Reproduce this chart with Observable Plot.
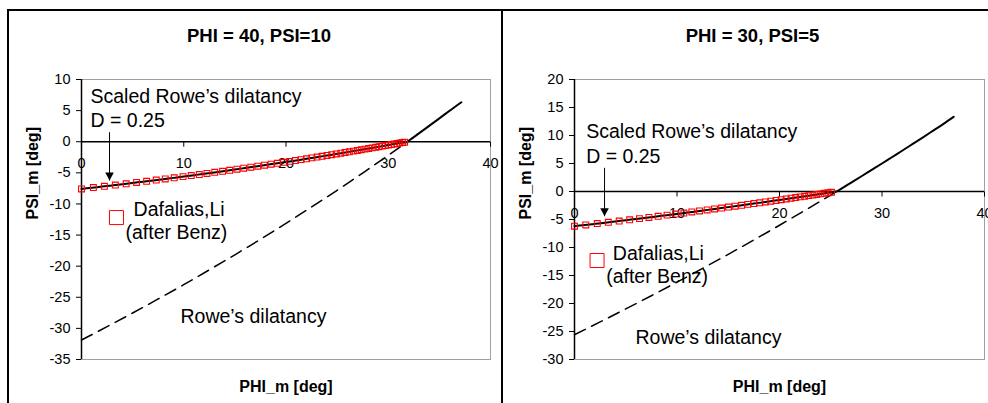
<!DOCTYPE html>
<html><head><meta charset="utf-8">
<script src="https://cdn.jsdelivr.net/npm/d3@7"></script>
<script src="https://cdn.jsdelivr.net/npm/@observablehq/plot@0.6"></script>
<style>
html,body{margin:0;padding:0;background:#fff;}
#wrap{position:relative;width:988px;height:403px;overflow:hidden;font-family:"Liberation Sans",Arial,sans-serif;}
.panel{position:absolute;top:10px;height:393px;}
.line{position:absolute;background:#000;}
</style>
</head><body>
<div id="wrap">
  <div class="panel" id="left" style="left:8px;width:494px"></div>
  <div class="panel" id="right" style="left:502px;width:486px"></div>
  <div class="line" style="left:8px;top:9px;width:980px;height:1.5px"></div>
  <div class="line" style="left:7px;top:9px;width:1.5px;height:394px"></div>
  <div class="line" style="left:501px;top:9px;width:2px;height:394px"></div>
</div>
<script>
// ---------- data ----------
const xTicks = [0, 10, 20, 30, 40];
const yTicksLeft = [-35, -30, -25, -20, -15, -10, -5, 0, 5, 10];
const yTicksRight = [-30, -25, -20, -15, -10, -5, 0, 5, 10, 15, 20];

// Left panel: PHI = 40, PSI = 10
const leftLinePhi = [0,1,2,3,4,5,6,7,8,9,10,11,12,13,14,15,16,17,18,19,20,21,22,23,24,25,26,27,28,29,30,31,31.87,32,33,34,35,36,37.15];
const leftLinePsi = [-7.59,-7.40,-7.21,-7.02,-6.83,-6.63,-6.43,-6.23,-6.02,-5.81,-5.60,-5.38,-5.16,-4.93,-4.70,-4.47,-4.23,-3.99,-3.75,-3.50,-3.25,-3.00,-2.74,-2.48,-2.21,-1.94,-1.67,-1.39,-1.11,-0.83,-0.54,-0.25,0,0.15,1.34,2.54,3.75,4.98,6.35];
const leftRowePhi = [0,2.5,5,7.5,10,12.5,15,17.5,20,22.5,25,27.5,30,31.87];
const leftRowePsi = [-31.87,-29.72,-27.53,-25.27,-22.97,-20.59,-18.17,-15.68,-13.12,-10.49,-7.80,-5.03,-2.18,0];
const leftMarkPhi = [0,1.16,2.24,3.31,4.37,5.39,6.37,7.31,8.19,9.07,9.93,10.73,11.52,12.27,13.03,13.8,14.49,15.2,15.86,16.56,17.24,17.9,18.54,19.16,19.76,20.35,20.92,21.47,22.01,22.53,23.04,23.53,24.01,24.47,24.92,25.36,25.78,26.19,26.59,26.98,27.36,27.73,28.09,28.43,28.77,29.1,29.41,29.72,30.02,30.31,30.59,30.86,31.13,31.39,31.6];
const leftMarkPsi = [-7.59,-7.37,-7.16,-6.96,-6.76,-6.55,-6.36,-6.16,-5.98,-5.80,-5.61,-5.44,-5.27,-5.10,-4.92,-4.75,-4.59,-4.42,-4.26,-4.10,-3.93,-3.77,-3.61,-3.46,-3.31,-3.16,-3.02,-2.88,-2.74,-2.60,-2.47,-2.34,-2.21,-2.08,-1.96,-1.84,-1.73,-1.62,-1.51,-1.40,-1.29,-1.19,-1.08,-0.99,-0.89,-0.80,-0.71,-0.62,-0.54,-0.45,-0.37,-0.29,-0.21,-0.14,-0.08];

// Right panel: PHI = 30, PSI = 5
const rightLinePhi = [0,1,2,3,4,5,6,7,8,9,10,11,12,13,14,15,16,17,18,19,20,21,22,23,24,25,25.57,26,27,28,29,30,31,32,33,34,35,36,37];
const rightLinePsi = [-6.19,-5.99,-5.78,-5.57,-5.35,-5.13,-4.91,-4.69,-4.46,-4.23,-4.00,-3.76,-3.52,-3.28,-3.03,-2.79,-2.54,-2.28,-2.03,-1.77,-1.51,-1.24,-0.97,-0.70,-0.43,-0.16,0,0.48,1.60,2.72,3.86,5.00,6.16,7.32,8.50,9.68,10.88,12.08,13.35];
const rightRowePhi = [0,2.5,5,7.5,10,12.5,15,17.5,20,22.5,25,25.57];
const rightRowePsi = [-25.57,-23.29,-20.97,-18.61,-16.19,-13.73,-11.22,-8.65,-6.03,-3.36,-0.63,0];
const rightMarkPhi = [0,1.1,2.22,3.3,4.36,5.38,6.34,7.26,8.16,9.03,9.86,10.67,11.45,12.2,12.94,13.66,14.35,15.02,15.67,16.3,16.91,17.5,18.07,18.62,19.15,19.67,20.17,20.66,21.13,21.58,22.02,22.45,22.86,23.26,23.64,24.02,24.38,24.73,25.07];
const rightMarkPsi = [-6.19,-5.97,-5.73,-5.50,-5.27,-5.05,-4.84,-4.63,-4.42,-4.22,-4.03,-3.84,-3.65,-3.47,-3.29,-3.12,-2.95,-2.78,-2.62,-2.46,-2.30,-2.16,-2.01,-1.87,-1.73,-1.60,-1.46,-1.33,-1.20,-1.08,-0.96,-0.85,-0.74,-0.63,-0.53,-0.42,-0.33,-0.23,-0.14];

// annotations (data coordinates)
const leftNotes = [
  {x: 0.88, y: 6.3, text: "Scaled Rowe’s dilatancy"},
  {x: 0.88, y: 2.44, text: "D = 0.25"},
  {x: 5.09, y: -11.98, text: "Dafalias,Li"},
  {x: 4.3, y: -15.64, text: "(after Benz)"},
  {x: 9.68, y: -29.18, text: "Rowe’s dilatancy"}
];
const leftArrow = [{x1: 2.74, y1: 1.53, x2: 2.74, y2: -6.24}];
const leftKey = [{x: 3.42, y: -12.19}];
const rightNotes = [
  {x: 1.14, y: 9.5, text: "Scaled Rowe’s dilatancy"},
  {x: 1.14, y: 5.1, text: "D = 0.25"},
  {x: 3.74, y: -12.2, text: "Dafalias,Li"},
  {x: 3.09, y: -16.37, text: "(after Benz)"},
  {x: 5.95, y: -27.2, text: "Rowe’s dilatancy"}
];
const rightArrow = [{x1: 2.93, y1: 4.23, x2: 2.93, y2: -4.41}];
const rightKey = [{x: 2.2, y: -12.32}];

// ---------- drawing ----------
const fontFamily = '"Liberation Sans", Arial, Helvetica, sans-serif';
const zip = (a, b) => a.map((v, i) => ({phi: v, psi: b[i]}));
const tickDown = {draw(ctx) { ctx.moveTo(0, 0); ctx.lineTo(0, 5); }};
const headDown = {draw(ctx) { ctx.moveTo(0, 0); ctx.lineTo(-4.3, -8); ctx.lineTo(4.3, -8); ctx.closePath(); }};

function chart(cfg) {
  return Plot.plot({
    width: cfg.width, height: 393,
    marginLeft: cfg.marginLeft, marginRight: cfg.marginRight, marginTop: 69, marginBottom: 44,
    style: {fontFamily, fontSize: "14.5px", color: "#000", background: "transparent", overflow: "visible"},
    x: {domain: [0, 40], axis: null},
    y: {domain: cfg.yDomain, ticks: cfg.yTicks, tickSize: 5, tickPadding: 6, tickFormat: d => String(d), label: null},
    marks: [
      Plot.frame({stroke: "#a0a0a0"}),
      Plot.ruleX([0], {stroke: "#000", strokeWidth: 1.5}),
      Plot.ruleY([0], {stroke: "#000", strokeWidth: 1.5}),
      Plot.dot(xTicks, {x: d => d, y: () => 0, symbol: tickDown, stroke: "#000", fill: "none", strokeWidth: 1}),
      Plot.text(xTicks, {x: d => d, y: () => 0, text: d => String(d), dy: 16, lineAnchor: "top", fontSize: 14.5, fill: "#000"}),
      Plot.line(zip(cfg.rowePhi, cfg.rowePsi), {x: "phi", y: "psi", stroke: "#000", strokeWidth: 1.5, strokeDasharray: "12,7", curve: "monotone-x"}),
      Plot.line(zip(cfg.linePhi, cfg.linePsi), {x: "phi", y: "psi", stroke: "#000", strokeWidth: 2, curve: "monotone-x"}),
      Plot.dot(zip(cfg.markPhi, cfg.markPsi), {x: "phi", y: "psi", symbol: "square", r: 3.3, stroke: "#ff0000", fill: "none", strokeWidth: 1.1}),
      Plot.dot(cfg.key, {x: "x", y: "y", symbol: "square", r: 7.9, stroke: "#ff0000", fill: "#fff", strokeWidth: 1}),
      Plot.link(cfg.arrow, {x1: "x1", y1: "y1", x2: "x2", y2: "y2", stroke: "#000", strokeWidth: 1}),
      Plot.dot(cfg.arrow, {x: "x2", y: "y2", symbol: headDown, fill: "#000", stroke: "none"}),
      Plot.text(cfg.notes, {x: "x", y: "y", text: "text", textAnchor: "start", lineAnchor: "bottom", fontSize: 19.5, fill: "#000"}),
      Plot.text([cfg.title], {frameAnchor: "top", text: d => d, dy: -38, dx: -27, lineAnchor: "bottom", fontWeight: "bold", fontSize: 18.5, fill: "#000"}),
      Plot.text(["PHI_m [deg]"], {frameAnchor: "bottom", text: d => d, dy: 32, lineAnchor: "bottom", fontWeight: "bold", fontSize: 16, fill: "#000"}),
      Plot.text(["PSI_m [deg]"], {frameAnchor: "left", text: d => d, rotate: -90, dx: -44, lineAnchor: "bottom", fontWeight: "bold", fontSize: 16, fill: "#000"})
    ]
  });
}

document.getElementById("left").appendChild(chart({
  width: 494, marginLeft: 73, marginRight: 12,
  yDomain: [-35, 10], yTicks: yTicksLeft, title: "PHI = 40, PSI=10",
  linePhi: leftLinePhi, linePsi: leftLinePsi, rowePhi: leftRowePhi, rowePsi: leftRowePsi,
  markPhi: leftMarkPhi, markPsi: leftMarkPsi, notes: leftNotes, arrow: leftArrow, key: leftKey
}));
document.getElementById("right").appendChild(chart({
  width: 486, marginLeft: 72, marginRight: 4,
  yDomain: [-30, 20], yTicks: yTicksRight, title: "PHI = 30, PSI=5",
  linePhi: rightLinePhi, linePsi: rightLinePsi, rowePhi: rightRowePhi, rowePsi: rightRowePsi,
  markPhi: rightMarkPhi, markPsi: rightMarkPsi, notes: rightNotes, arrow: rightArrow, key: rightKey
}));
</script>
</body></html>
